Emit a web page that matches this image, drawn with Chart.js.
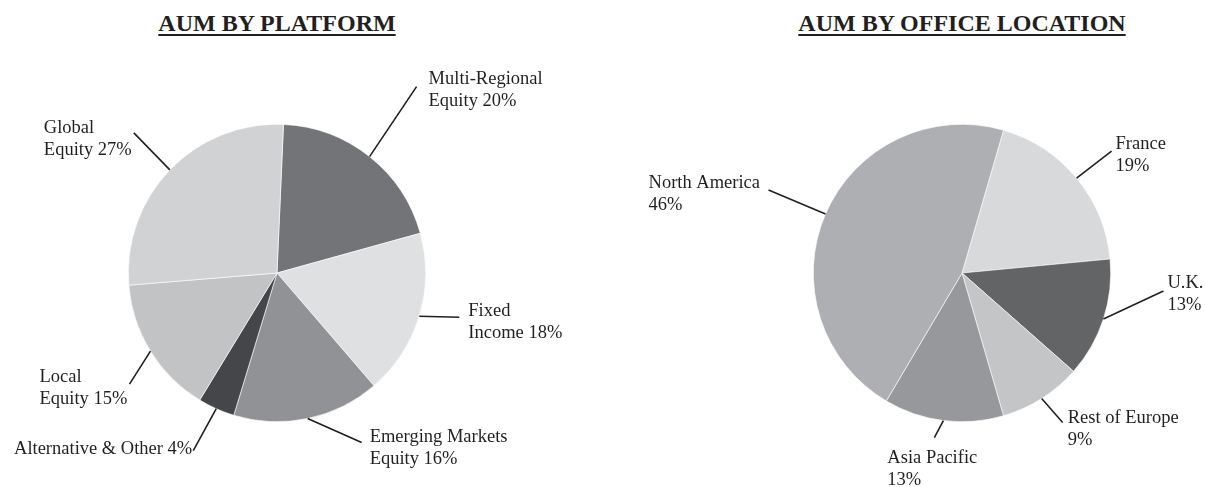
<!DOCTYPE html>
<html>
<head>
<meta charset="utf-8">
<script src="https://cdn.jsdelivr.net/npm/chart.js@4.4.1/dist/chart.umd.min.js"></script>
<style>
  body { margin: 0; background: #fff; }
  #wrap { position: relative; width: 1205px; height: 487px; }
  canvas { position: absolute; left: 0; top: 0; }
  .title {
    position: absolute; top: 11px; width: 400px; text-align: center;
    font: bold 24px 'Liberation Serif', serif; line-height: 24px;
    color: #231f20; text-decoration: underline; text-underline-offset: 3px;
  }
</style>
</head>
<body>
<div id="wrap">
  <div class="title" style="left:77px">AUM BY PLATFORM</div>
  <div class="title" style="left:762px">AUM BY OFFICE LOCATION</div>
  <canvas id="platformChart" width="1205" height="487"></canvas>
  <canvas id="locationChart" width="1205" height="487"></canvas>
</div>
<script>
// data
const platformLabels = [['Multi-Regional', 'Equity'], ['Fixed', 'Income'], ['Emerging Markets', 'Equity'], ['Alternative & Other'], ['Local', 'Equity'], ['Global', 'Equity']];
const platformValues = [20, 18, 16, 4, 15, 27];
const locationLabels = [['France'], ['U.K.'], ['Rest of Europe'], ['Asia Pacific'], ['North America']];
const locationValues = [19, 13, 9, 13, 46];

// styles
const platformColors = ['#737478', '#dfe0e1', '#919295', '#45464a', '#c2c3c5', '#d1d2d4'];
const locationColors = ['#d8d9db', '#636466', '#c4c5c7', '#97989b', '#aeafb2'];

// leader line: anchor fraction in slice, line vector, text offset from line end
const platformLeaders = [
    {at: 0.5, dx: 47, dy: -70, tx: 12, ty: -7, align: 'left'},
    {at: 0.5, dx: 40, dy: 1, tx: 9, ty: -6, align: 'left'},
    {at: 0.5, dx: 54, dy: 24, tx: 8, ty: -5, align: 'left'},
    {at: 0.5, dx: -23, dy: 42, tx: -1, ty: -2, align: 'right'},
    {at: 0.5, dx: -21, dy: 33, tx: -90, ty: -7, align: 'left'},
    {at: 0.5, dx: -36, dy: -37, tx: -90, ty: -5, align: 'left'}
];
const locationLeaders = [
    {at: 0.5, dx: 35, dy: -27, tx: 4, ty: -7, align: 'left'},
    {at: 0.5, dx: 60, dy: -28, tx: 4, ty: -8, align: 'left'},
    {at: 0.5, dx: 21, dy: 24, tx: 5, ty: -4, align: 'left'},
    {at: 0.5, dx: -9, dy: 17, tx: -47, ty: 21, align: 'left'},
    {at: 0.5, dx: -57, dy: -24, tx: -120, ty: -7, align: 'left'}
];

const leaderPlugin = {
    id: 'leaders',
    afterDatasetsDraw(chart, args, opts) {
        const ctx = chart.ctx;
        const meta = chart.getDatasetMeta(0);
        const values = chart.data.datasets[0].data;
        ctx.save();
        ctx.font = '18.5px "Liberation Serif", serif';
        ctx.fillStyle = '#231f20';
        ctx.strokeStyle = '#231f20';
        ctx.lineWidth = 1.6;
        ctx.textBaseline = 'middle';
        meta.data.forEach((arc, i) => {
            const l = opts.leaders[i];
            const a = arc.startAngle + (arc.endAngle - arc.startAngle) * l.at;
            const sx = arc.x + arc.outerRadius * Math.cos(a);
            const sy = arc.y + arc.outerRadius * Math.sin(a);
            const ex = sx + l.dx, ey = sy + l.dy;
            ctx.beginPath();
            ctx.moveTo(sx, sy);
            ctx.lineTo(ex, ey);
            ctx.stroke();
            const lines = chart.data.labels[i].slice();
            if (opts.ownLine) lines.push(values[i] + '%');
            else lines[lines.length - 1] += ' ' + values[i] + '%';
            ctx.textAlign = l.align;
            lines.forEach((t, k) => ctx.fillText(t, ex + l.tx, ey + l.ty + k * 22));
        });
        ctx.restore();
    }
};

function makePie(id, labels, values, colors, rotation, padding, leaders, ownLine) {
    new Chart(document.getElementById(id).getContext('2d'), {
        type: 'pie',
        data: {
            labels: labels,
            datasets: [{
                data: values,
                backgroundColor: colors,
                borderColor: '#ffffff',
                borderWidth: 0.6
            }]
        },
        options: {
            responsive: false,
            animation: false,
            rotation: rotation,
            layout: { padding: padding },
            plugins: {
                legend: { display: false },
                tooltip: { enabled: false },
                leaders: { leaders: leaders, ownLine: ownLine }
            }
        },
        plugins: [leaderPlugin]
    });
}

makePie('platformChart', platformLabels, platformValues, platformColors, 2.5,
    {left: 128, right: 779, top: 124, bottom: 65}, platformLeaders, false);
makePie('locationChart', locationLabels, locationValues, locationColors, 16.2,
    {left: 813, right: 94, top: 124, bottom: 65}, locationLeaders, true);
</script>
</body>
</html>
